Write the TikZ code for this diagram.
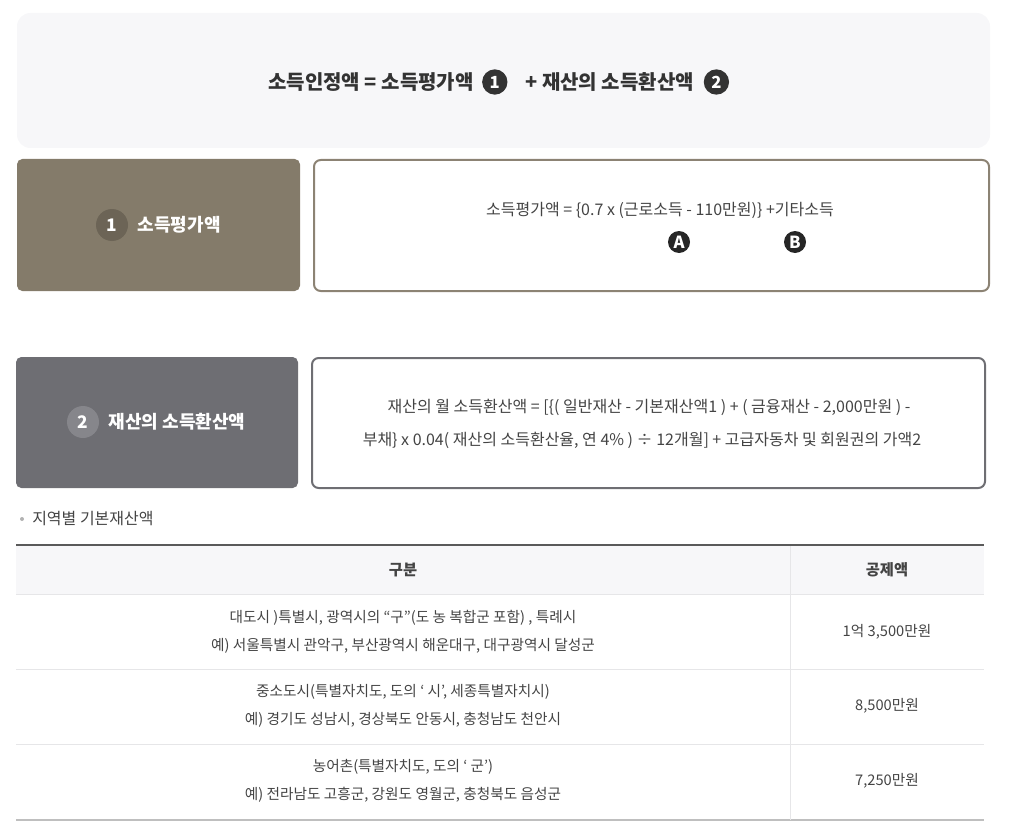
\documentclass[tikz,border=0pt]{standalone}
\usepackage{fontspec}
\setmainfont{Noto Sans CJK KR}
\usetikzlibrary{positioning}
\definecolor{panel}{HTML}{F7F7F9}
\definecolor{brownbox}{HTML}{847B6A}
\definecolor{brownnum}{HTML}{6C6456}
\definecolor{brownline}{HTML}{8C8374}
\definecolor{graybox}{HTML}{6E6E73}
\definecolor{graynum}{HTML}{86868B}
\definecolor{txt}{HTML}{444444}
\definecolor{rule}{HTML}{5A5A5A}
\definecolor{cellline}{HTML}{E6E6E8}
\tikzset{
	num/.style={circle,fill=#1,text=white,inner sep=0pt,minimum size=19pt,font=\bfseries\fontsize{12.5}{12.5}\selectfont},
	tag/.style={circle,fill=#1,text=white,inner sep=0pt,minimum size=24pt,font=\bfseries\fontsize{13}{13}\selectfont},
	head/.style={font=\bfseries\fontsize{13.5}{15}\selectfont,inner sep=0pt},
	body/.style={text=txt,font=\fontsize{12}{14}\selectfont,inner sep=0pt},
	cell/.style={text=txt,font=\fontsize{11}{13}\selectfont,inner sep=0pt,align=center}
}
\begin{document}
\begin{tikzpicture}[x=0.75pt,y=-0.75pt,line join=round]
			\useasboundingbox (0,0) rectangle (1009,831);
			\fill[panel,rounded corners=10pt] (17,13) rectangle (990,148);
			\node[head,text=black!80,font=\bfseries\fontsize{15}{17}\selectfont,anchor=west] (t1) at (268,82) {소득인정액 = 소득평가액};
			\node[num=black!80,right=6pt of t1] (c1) {1};
			\node[head,text=black!80,font=\bfseries\fontsize{15}{17}\selectfont,right=13pt of c1] (t2) {+ 재산의 소득환산액};
			\node[num=black!80,right=7pt of t2] (c2) {2};
			
			\fill[brownbox,rounded corners=4pt] (17,159) rectangle (300,291);
			\node[tag=brownnum] (n1) at (112,225) {1};
			\node[head,text=white,right=7pt of n1] (h1) {소득평가액};
			\draw[brownline,line width=1.5pt,rounded corners=5pt] (314,160) rectangle (989,291);
			\node[body] (f1) at (660,210) {소득평가액 = \{0.7 x (근로소득 - 110만원)\} +기타소득};
			\node[num=black!85,minimum size=16.5pt] (a) at (679,242) {A};
			\node[num=black!85,minimum size=16.5pt] (b) at (795,242) {B};
			
			\fill[graybox,rounded corners=4pt] (16,357) rectangle (298,488);
			\node[tag=graynum] (n2) at (83,422) {2};
			\node[head,text=white,right=7pt of n2] (h2) {재산의 소득환산액};
			\draw[graybox,line width=1.5pt,rounded corners=5pt] (312,358) rectangle (985,488);
			\node[body] (f2) at (649,407) {재산의 월 소득환산액 = [\{( 일반재산 - 기본재산액1 ) + ( 금융재산 - 2,000만원 ) -};
			\node[body] (f3) at (642,440) {부채\} x 0.04( 재산의 소득환산율, 연 4\% ) ÷ 12개월] + 고급자동차 및 회원권의 가액2};
			
			\fill[black!30] (22,519) circle (2);
			\node[text=txt,font=\fontsize{12}{14}\selectfont,inner sep=0pt,anchor=west] (sub) at (32,519) {지역별 기본재산액};
			
			\fill[panel] (16,545) rectangle (984,594);
			\draw[cellline] (16,594)--(984,594);
			\draw[cellline] (16,669)--(984,669);
			\draw[cellline] (16,744)--(984,744);
			\draw[black!25,line width=1pt] (16,820)--(984,820);
			\draw[cellline] (790,545)--(790,820);
			\draw[rule,line width=2pt] (16,545)--(984,545);
			\node[cell,font=\bfseries\fontsize{11.5}{13}\selectfont] (k1) at (403,570) {구분};
			\node[cell,font=\bfseries\fontsize{11.5}{13}\selectfont] (k2) at (887,570) {공제액};
			\node[cell] (r1) at (403,632) {대도시 )특별시, 광역시의 “구”(도 농 복합군 포함) , 특례시\\[8pt]예) 서울특별시 관악구, 부산광역시 해운대구, 대구광역시 달성군};
			\node[cell] (v1) at (887,632) {1억 3,500만원};
			\node[cell] (r2) at (403,706) {중소도시(특별자치도, 도의 ‘ 시’, 세종특별자치시)\\[8pt]예) 경기도 성남시, 경상북도 안동시, 충청남도 천안시};
			\node[cell] (v2) at (887,706) {8,500만원};
			\node[cell] (r3) at (403,781) {농어촌(특별자치도, 도의 ‘ 군’)\\[8pt]예) 전라남도 고흥군, 강원도 영월군, 충청북도 음성군};
			\node[cell] (v3) at (887,781) {7,250만원};
\end{tikzpicture}
\end{document}
